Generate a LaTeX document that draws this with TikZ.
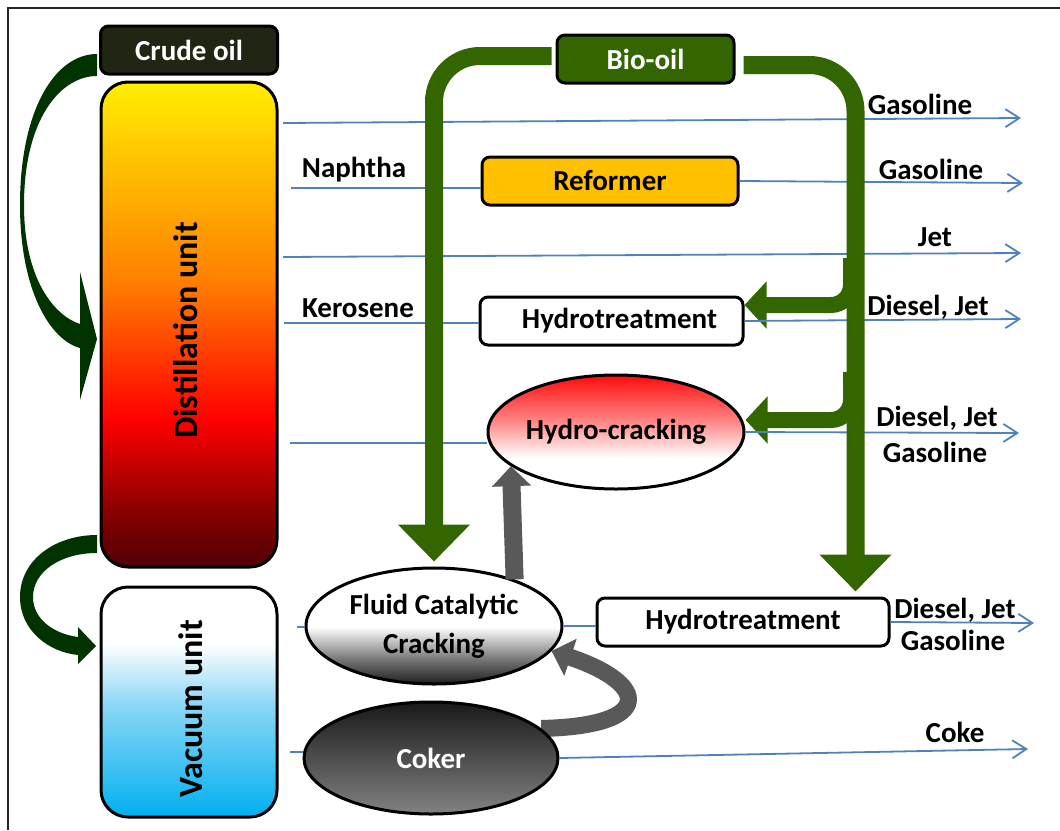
\documentclass[tikz,border=0pt]{standalone}
\usepackage{fontspec}
\setmainfont{Carlito}
\usetikzlibrary{positioning,shapes.geometric,arrows.meta,backgrounds}
\usepackage{xcolor}
\definecolor{flowblue}{RGB}{79,129,189}
\definecolor{biogreen}{RGB}{51,102,0}
\definecolor{crudegreen}{RGB}{0,51,0}
\definecolor{crudebox}{RGB}{33,37,20}
\definecolor{steamgray}{RGB}{89,89,89}
\definecolor{refgold}{RGB}{255,192,0}
% colour stops of the shaded units
\definecolor{distA}{RGB}{80,0,5}
\definecolor{distB}{RGB}{125,0,0}
\definecolor{distC}{RGB}{255,0,0}
\definecolor{distD}{RGB}{255,128,0}
\definecolor{distE}{RGB}{255,238,0}
\definecolor{vacA}{RGB}{0,176,240}
\definecolor{vacB}{RGB}{140,215,245}
\definecolor{hcA}{RGB}{255,130,130}
\definecolor{hcB}{RGB}{255,10,10}
\definecolor{fccA}{RGB}{30,30,30}
\definecolor{fccB}{RGB}{115,115,115}
\definecolor{cokA}{RGB}{130,130,130}
\definecolor{cokB}{RGB}{25,25,25}
\pgfdeclareverticalshading{distshade}{100bp}{color(0bp)=(distA); color(25bp)=(distA); color(29.8bp)=(distB); color(40.2bp)=(distC); color(54.6bp)=(distD); color(75bp)=(distE); color(100bp)=(distE)}
\pgfdeclareverticalshading{vacshade}{100bp}{color(0bp)=(vacA); color(25bp)=(vacA); color(49.6bp)=(vacB); color(62.6bp)=(white); color(100bp)=(white)}
\pgfdeclareverticalshading{hcshade}{100bp}{color(0bp)=(white); color(38.6bp)=(white); color(55.3bp)=(hcA); color(75bp)=(hcB); color(100bp)=(hcB)}
\pgfdeclareverticalshading{fccshade}{100bp}{color(0bp)=(fccA); color(25bp)=(fccA); color(35.3bp)=(fccB); color(49.6bp)=(white); color(100bp)=(white)}
\pgfdeclareverticalshading{cokshade}{100bp}{color(0bp)=(cokA); color(25bp)=(cokA); color(75bp)=(cokB); color(100bp)=(cokB)}

\begin{document}
\begin{tikzpicture}[
  x=1pt, y=-1pt,
  font=\bfseries\fontsize{29}{39}\selectfont,
  unit/.style={draw, line width=3pt, rounded corners=27pt, minimum width=176pt, inner sep=0pt, shade},
  tag/.style={draw, line width=3pt, rounded corners=8pt, minimum width=177pt, minimum height=48pt, inner sep=0pt, text=white},
  procbox/.style={draw, line width=3pt, rounded corners=8pt, minimum height=48pt, inner sep=0pt, fill=white},
  proc/.style={ellipse, draw, line width=3pt, inner sep=0pt, shade},
  unitlbl/.style={rotate=90, font=\bfseries\fontsize{34}{36}\selectfont},
  lab/.style={anchor=base, inner sep=0pt},
  flow/.style={draw=flowblue, line width=1.8pt},
  prod/.style={flow, -{Straight Barb[length=14pt,width=18pt]}},
  bioarr/.style={draw=biogreen, line width=18pt, rounded corners=46pt, -{Triangle[width=70pt,length=37pt]}},
  brarr/.style={draw=biogreen, line width=16pt, rounded corners=20pt, -{Triangle[width=46pt,length=22pt]}},
  grayarr/.style={draw=steamgray, line width=18pt, -{Triangle[width=38pt,length=20pt]}},
]
\useasboundingbox (0,0) rectangle (1060,830);
\draw[line width=1.5pt, black!85] (8,830) -- (8,8) -- (1060,8);

% Crude side: units
\node[unit, shading=distshade, minimum height=485pt] (dist) at (189,324.5) {};
\node[tag, fill=crudebox, above=5pt of dist] (crude) {Crude oil};
\node[unit, shading=vacshade, minimum height=230pt, below=17pt of dist] (vac) {};
\node[unitlbl] (distlbl) at ([xshift=-3pt,yshift=-6pt]dist.center) {Distillation unit};
\node[unitlbl] (vaclbl) at ([xshift=2pt,yshift=-7pt]vac.center) {Vacuum unit};

% Tapered arrows from crude oil and from the distillation bottoms
\fill[crudegreen] (97,54) .. controls (55,54) and (20,110) .. (20,205)
  .. controls (20,290) and (50,340) .. (80,348) -- (80,400) -- (97,339) -- (80,272) -- (80,324)
  .. controls (55,316) and (24,280) .. (24,205) .. controls (24,120) and (60,76) .. (97,76) -- cycle;
\fill[crudegreen] (97,535) .. controls (55,535) and (20,560) .. (20,597)
  .. controls (20,630) and (48,652) .. (78,655) -- (78,664) -- (96,646) -- (78,627) -- (78,637)
  .. controls (55,634) and (33,620) .. (33,597) .. controls (33,572) and (60,553) .. (97,553) -- cycle;

% Process units
\node[tag, fill=biogreen] (bio) at (645.5,59) {Bio-oil};
\node[procbox, fill=refgold, minimum width=256pt] (ref) at (610,181) {Reformer};
\node[procbox, minimum width=263pt] (ht1) at (611.5,321) {\hspace*{16pt}Hydrotreatment};
\node[proc, shading=hcshade, minimum width=256pt, minimum height=114pt] (hc) at (616,432) {Hydro-cracking};
\node[proc, shading=fccshade, minimum width=256pt, minimum height=116pt, align=center] (fcc) at (434,626) {Fluid Catalytic\\Cracking};
\node[proc, shading=cokshade, minimum width=254pt, minimum height=112pt, below=15pt of fcc, xshift=-3pt, text=white] (coker) {Coker};
\node[procbox, minimum width=292pt, right=32pt of fcc, yshift=4pt] (ht2) {Hydrotreatment};

% Gray transfer arrows
\draw[grayarr] (fcc.30) -- (hc.198);
\begin{scope}[on background layer]
  \draw[grayarr, line width=17pt] (coker.15) .. controls (655,726) and (650,684) .. (fcc.-12);
\end{scope}

% Bio-oil branches
\coordinate (br1) at (851,258);
\coordinate (br2) at (851,372);
\draw[brarr] (br1) |- ([yshift=16pt]ht1.east);
\draw[brarr] (br2) |- ([yshift=12pt]hc.east);

% Product streams
\coordinate (s1) at (283,123);  \coordinate (e1) at (1021,118);
\coordinate (s2) at (291,188);  \coordinate (e2) at (1023,183);
\coordinate (s3) at (283,257);  \coordinate (e3) at (1021,253);
\coordinate (s4) at (284,323);  \coordinate (e4) at (1021,319);
\coordinate (s5) at (290,443);  \coordinate (e5) at (1019,433);
\coordinate (s6) at (297,627);  \coordinate (e6) at (1034,623);
\coordinate (s7) at (290,752);  \coordinate (e7) at (1028,749);
\foreach \a/\b in {s2/ref, s4/ht1, s5/hc, s6/fcc, s7/coker}
  \draw[flow] (\a) -- (\a -| \b.west);
\draw[flow] (fcc.east) -- (fcc.east -| ht2.west);
\foreach \a/\b in {s1/e1, ref.east/e2, s3/e3, ht1.east/e4, hc.east/e5, ht2.east/e6, coker.east/e7}
  \draw[prod] (\a) -- (\b);

% Bio-oil feed lines
\draw[bioarr, shorten <=4pt] ([yshift=3pt]bio.west) -| ([yshift=5pt]fcc.north);
\draw[bioarr, shorten <=8pt] ([yshift=-6pt]bio.east) -| ([xshift=-35pt,yshift=5pt]ht2.north east);

% Stream labels
\node[lab] (lgas1) at (920,114) {Gasoline};
\node[lab] (lnaph) at (354,177) {Naphtha};
\node[lab] (lgas2) at (931,179) {Gasoline};
\node[lab] (ljet)  at (935,246) {Jet};
\node[lab] (lker)  at (358,317) {Kerosene};
\node[lab] (ldj1)  at (928,315) {Diesel, Jet};
\node[lab] (ldj2)  at (937,426) {Diesel, Jet};
\node[lab] (lgas3) at (935,462) {Gasoline};
\node[lab] (ldj3)  at (955,618) {Diesel, Jet};
\node[lab] (lgas4) at (953,650) {Gasoline};
\node[lab] (lcoke) at (955,742) {Coke};

\end{tikzpicture}
\end{document}
